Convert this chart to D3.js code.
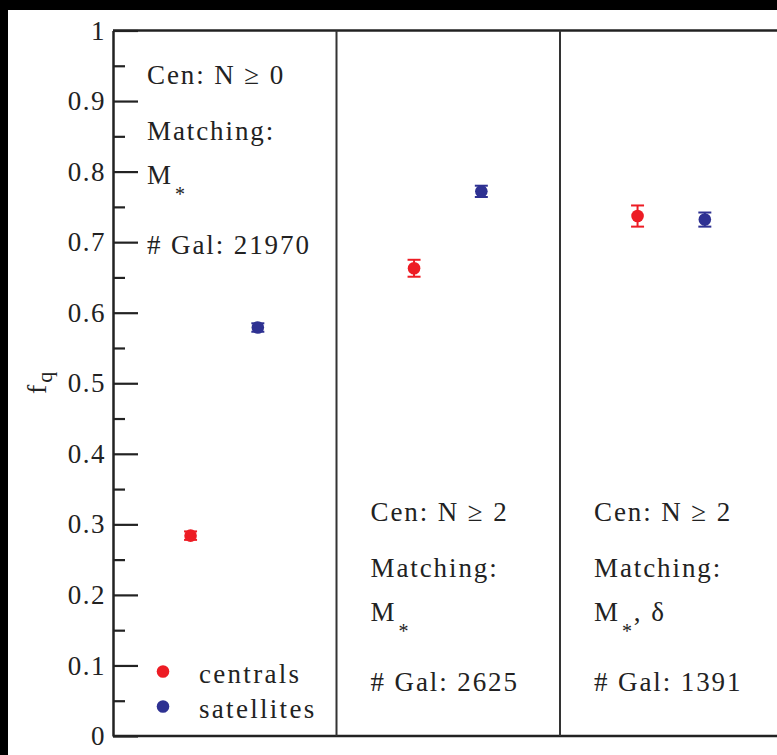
<!DOCTYPE html>
<html>
<head>
<meta charset="utf-8">
<script src="https://cdn.jsdelivr.net/npm/d3@7"></script>
<style>
  body { margin: 0; background: #000; }
  svg { display: block; }
  text { font-family: "Liberation Serif", "Times New Roman", serif; fill: #222; }
</style>
</head>
<body>
<script>
// data
const panels = [0, 1, 2];
const centralsFq = [0.284, 0.663, 0.737];
const centralsErr = [0.006, 0.012, 0.015];
const satellitesFq = [0.579, 0.772, 0.732];
const satellitesErr = [0.006, 0.008, 0.010];
const cenLabels = ["Cen: N \u2265 0", "Cen: N \u2265 2", "Cen: N \u2265 2"];
const matchMain = ["M", "M", "M"];
const matchSub = ["*", "*", "*"];
const matchTail = ["", "", ", \u03b4"];
const galCounts = [21970, 2625, 1391];
const legendNames = ["centrals", "satellites"];
const yMajor = [0, 0.1, 0.2, 0.3, 0.4, 0.5, 0.6, 0.7, 0.8, 0.9, 1];
const yMinor = [0.05, 0.15, 0.25, 0.35, 0.45, 0.55, 0.65, 0.75, 0.85, 0.95];

const W = 777, H = 755;
const red = "#ed1c24", blue = "#2e3192";

let svg = d3.select("body").append("svg")
  .attr("width", W)
  .attr("height", H);

// black frame top/left, white page
svg.append("rect").attr("width", W).attr("height", H).attr("fill", "#000");
svg.append("rect").attr("x", 8).attr("y", 10).attr("width", W).attr("height", H).attr("fill", "#fff");

var xScale = d3.scaleLinear().domain([0, 3]).range([113, 783.5]),
  yScale = d3.scaleLinear().domain([0, 1]).range([736, 30.5]);

//minor ticks
svg.append("g")
  .attr("transform", "translate(113,0)")
  .call(d3.axisLeft(yScale).tickValues(yMinor).tickSize(-12).tickFormat(""))
  .call(g => g.select(".domain").remove())
  .selectAll("line").attr("stroke", "#222").attr("stroke-width", 2.2);

//major ticks + labels
let yAxis = svg.append("g")
  .attr("transform", "translate(113,0)")
  .call(d3.axisLeft(yScale).tickValues(yMajor).tickSize(-25).tickSizeOuter(0)
    .tickPadding(7).tickFormat(d3.format("~g")));
yAxis.select(".domain").attr("stroke", "#222").attr("stroke-width", 2.5);
yAxis.selectAll("line").attr("stroke", "#222").attr("stroke-width", 2.2);
yAxis.selectAll("text")
  .style("font-family", "Liberation Serif")
  .style("font-size", "27px")
  .style("letter-spacing", "1.5px")
  .attr("fill", "#222");

//top and bottom frame lines
[1, 0].forEach(function (v) {
  svg.append("line")
    .attr("x1", xScale(0)).attr("x2", xScale(3))
    .attr("y1", yScale(v)).attr("y2", yScale(v))
    .attr("stroke", "#222").attr("stroke-width", 2.5);
});

//panel dividers
svg.selectAll(".divider")
  .data([1, 2])
  .enter().append("line")
  .attr("class", "divider")
  .attr("x1", d => xScale(d)).attr("x2", d => xScale(d))
  .attr("y1", yScale(1)).attr("y2", yScale(0))
  .attr("stroke", "#333").attr("stroke-width", 2);

//y label
let ylab = svg.append("text")
  .attr("transform", "translate(46,394) rotate(-90)")
  .style("font-size", "28px");
ylab.append("tspan").text("f");
ylab.append("tspan").attr("dx", 2).attr("dy", 6).style("font-size", "22px").text("q");

//points with error bars
function drawSeries(vals, errs, off, color) {
  let g = svg.append("g");
  panels.forEach(function (p, i) {
    let cx = xScale(p + off);
    let y0 = yScale(vals[i] - errs[i]), y1 = yScale(vals[i] + errs[i]);
    g.append("line").attr("x1", cx).attr("x2", cx).attr("y1", y0).attr("y2", y1)
      .attr("stroke", color).attr("stroke-width", 2);
    [y0, y1].forEach(function (yy) {
      g.append("line").attr("x1", cx - 6.5).attr("x2", cx + 6.5).attr("y1", yy).attr("y2", yy)
        .attr("stroke", color).attr("stroke-width", 2);
    });
    g.append("circle").attr("cx", cx).attr("cy", yScale(vals[i])).attr("r", 6.3)
      .attr("fill", color);
  });
}
drawSeries(centralsFq, centralsErr, 0.347, red);
drawSeries(satellitesFq, satellitesErr, 0.648, blue);

//panel annotations
const annoTop = [84, 521, 521];
panels.forEach(function (p, i) {
  let x = xScale(p) + 34;
  let t0 = annoTop[i];
  let base = svg.append("g").style("font-size", "27px").style("letter-spacing", "1.9px");
  base.append("text").attr("x", x).attr("y", t0).text(cenLabels[i]);
  base.append("text").attr("x", x).attr("y", t0 + 56).text("Matching:");
  let m = base.append("text").attr("x", x).attr("y", t0 + 100);
  m.append("tspan").text(matchMain[i]);
  m.append("tspan").attr("dx", 2).attr("dy", 17).style("font-size", "20px").text(matchSub[i]);
  m.append("tspan").attr("dy", -17).text(matchTail[i]);
  base.append("text").attr("x", x).attr("y", t0 + 170).text("# Gal: " + galCounts[i]);
});

//legend
const legColors = [red, blue];
let leg = svg.append("g");
legendNames.forEach(function (n, i) {
  leg.append("circle").attr("cx", 163).attr("cy", 671.5 + i * 35).attr("r", 6.3).attr("fill", legColors[i]);
  leg.append("text").attr("x", 199).attr("y", 682.5 + i * 35)
    .style("font-size", "27px").style("letter-spacing", "2.3px").text(n);
});
</script>
</body>
</html>
